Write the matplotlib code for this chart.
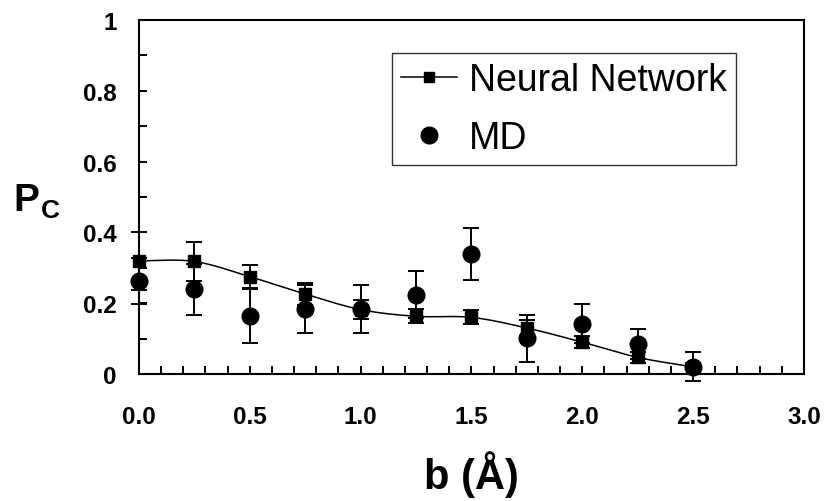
import numpy as np
import matplotlib
matplotlib.use('Agg')
import matplotlib.pyplot as plt
from matplotlib.ticker import MultipleLocator, FixedLocator, FixedFormatter

plt.rcParams['font.family'] = ['Liberation Sans', 'DejaVu Sans']

# datos
b = [0.0, 0.25, 0.5, 0.75, 1.0, 1.25, 1.5, 1.75, 2.0, 2.25, 2.5]
pc_nn = [0.320, 0.318, 0.275, 0.226, 0.182, 0.163, 0.160, 0.130, 0.090, 0.047, 0.020]
err_nn = [0.082, 0.054, 0.034, 0.030, 0.026, 0.020, 0.020, 0.023, 0.017, 0.015, 0.010]
pc_md = [0.264, 0.240, 0.165, 0.184, 0.184, 0.224, 0.339, 0.101, 0.142, 0.085, 0.021]
err_md = [0.065, 0.072, 0.078, 0.068, 0.067, 0.066, 0.073, 0.066, 0.055, 0.042, 0.042]

xticks = [0.0, 0.5, 1.0, 1.5, 2.0, 2.5, 3.0]
xticklabels = ['0.0', '0.5', '1.0', '1.5', '2.0', '2.5', '3.0']
yticks = [0.0, 0.2, 0.4, 0.6, 0.8, 1.0]
yticklabels = ['0', '0.2', '0.4', '0.6', '0.8', '1']


def catmull_rom(x, y, n=30):
    # linea suavizada tipo Excel que pasa por los puntos
    x = np.asarray(x, float)
    y = np.asarray(y, float)
    px = np.concatenate(([2 * x[0] - x[1]], x, [2 * x[-1] - x[-2]]))
    py = np.concatenate(([2 * y[0] - y[1]], y, [2 * y[-1] - y[-2]]))
    xs, ys = [], []
    t = np.linspace(0, 1, n)
    for i in range(1, len(px) - 2):
        for p, out in ((px, xs), (py, ys)):
            p0, p1, p2, p3 = p[i - 1], p[i], p[i + 1], p[i + 2]
            out.extend(0.5 * (2 * p1 + (-p0 + p2) * t
                              + (2 * p0 - 5 * p1 + 4 * p2 - p3) * t**2
                              + (-p0 + 3 * p1 - 3 * p2 + p3) * t**3))
    return np.array(xs), np.array(ys)


fig = plt.figure(figsize=(8.27, 5.02), dpi=100)
ax = fig.add_axes([0.168, 0.253, 0.804, 0.705])

xs, ys = catmull_rom(b, pc_nn)
ax.plot(xs, ys, color='black', lw=1.1, zorder=3)
ax.errorbar(b, pc_nn, yerr=err_nn, fmt='none', ecolor='black', elinewidth=1.4,
            capsize=5.8, capthick=1.4, zorder=3, clip_on=False)
ax.plot(b, pc_nn, 's', color='black', ms=9, zorder=4, clip_on=False)
ax.errorbar(b, pc_md, yerr=err_md, fmt='none', ecolor='black', elinewidth=1.4,
            capsize=5.8, capthick=1.4, zorder=5, clip_on=False)
ax.plot(b, pc_md, 'o', color='black', ms=12, zorder=6, clip_on=False)

# entradas de la leyenda
h_nn, = ax.plot([], [], '-s', color='black', lw=1.1, ms=7)
h_md, = ax.plot([], [], 'o', color='black', ms=12)
leg = ax.legend([h_nn, h_md], ['Neural Network', 'MD'], loc='upper left',
                bbox_to_anchor=(0.38, 0.907), fontsize=27, frameon=True,
                fancybox=False, edgecolor='black', handlelength=1.5,
                handletextpad=0.32, labelspacing=0.58, borderpad=0.25,
                borderaxespad=0.0)
leg.get_frame().set_linewidth(1.0)

ax.set_xlim(0, 3.0)
ax.set_ylim(0, 1.0)
ax.xaxis.set_major_locator(FixedLocator(xticks))
ax.xaxis.set_major_formatter(FixedFormatter(xticklabels))
ax.yaxis.set_major_locator(FixedLocator(yticks))
ax.yaxis.set_major_formatter(FixedFormatter(yticklabels))
ax.xaxis.set_minor_locator(MultipleLocator(0.1))
ax.yaxis.set_minor_locator(MultipleLocator(0.1))
ax.tick_params(which='both', direction='in', length=5.5, width=1.4,
               top=False, right=False)
ax.tick_params(axis='x', which='major', pad=22, labelsize=17.5)
ax.tick_params(axis='y', which='major', pad=16, labelsize=17.5)
for lab in ax.get_xticklabels() + ax.get_yticklabels():
    lab.set_fontweight('bold')
for sp in ax.spines.values():
    sp.set_linewidth(1.5)
    sp.set_color('black')

ax.set_xlabel('b (Å)', fontsize=30, fontweight='bold', labelpad=16)
fig.text(13 / 827, 1 - 211 / 502, 'P', fontsize=28, fontweight='bold',
         ha='left', va='baseline')
fig.text(41 / 827, 1 - 218 / 502, 'C', fontsize=19, fontweight='bold',
         ha='left', va='baseline')

fig.savefig('out.png', dpi=100)
